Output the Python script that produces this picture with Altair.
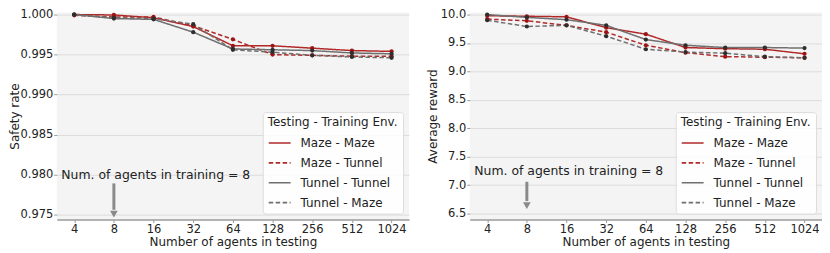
import altair as alt
import pandas as pd

agents = ["4", "8", "16", "32", "64", "128", "256", "512", "1024"]
series = ["Maze - Maze", "Maze - Tunnel", "Tunnel - Tunnel", "Tunnel - Maze"]

safety_maze_maze = [1.0000, 0.99995, 0.9996, 0.9985, 0.9961, 0.9961, 0.9958, 0.9955, 0.9954]
safety_maze_tunnel = [0.9999, 0.9997, 0.9997, 0.9986, 0.9969, 0.9950, 0.9949, 0.9948, 0.9948]
safety_tunnel_tunnel = [1.0000, 0.9995, 0.9994, 0.9978, 0.9957, 0.9956, 0.9955, 0.9952, 0.9951]
safety_tunnel_maze = [1.0000, 0.9996, 0.9995, 0.9988, 0.9956, 0.9953, 0.9949, 0.9947, 0.9946]

reward_maze_maze = [9.98, 9.97, 9.96, 9.77, 9.655, 9.42, 9.40, 9.39, 9.31]
reward_maze_tunnel = [9.92, 9.89, 9.81, 9.69, 9.46, 9.33, 9.26, 9.25, 9.24]
reward_tunnel_tunnel = [10.0, 9.95, 9.91, 9.81, 9.56, 9.46, 9.42, 9.42, 9.41]
reward_tunnel_maze = [9.90, 9.79, 9.81, 9.62, 9.39, 9.34, 9.32, 9.26, 9.24]

safety_ticks = [0.975, 0.980, 0.985, 0.990, 0.995, 1.000]
reward_ticks = [6.5, 7.0, 7.5, 8.0, 8.5, 9.0, 9.5, 10.0]

annotation = "Num. of agents in training = 8"
training_agents = "8"

RED = "#b02a2a"
RED_DOT = "#9e1414"
GRAY = "#6f6f6f"
GRAY_DOT = "#2e2e2e"
FONT = "DejaVu Sans"


def long_df(lists):
    rows = []
    for s, vals in zip(series, lists):
        for a, v in zip(agents, vals):
            rows.append({"agents": a, "series": s, "value": v})
    return pd.DataFrame(rows)


def panel(lists, ytitle, domain, ticks, fmt, text_y, arrow_y1, arrow_y2, head_y, width, ytp):
    df = long_df(lists)
    xenc = alt.X(
        "agents:N",
        sort=agents,
        scale=alt.Scale(type="point", padding=0.44),
        axis=alt.Axis(
            title="Number of agents in testing",
            labelAngle=0,
            labelFontSize=11.5,
            titleFontSize=12,
            titleFontWeight="normal",
            titlePadding=2,
            grid=False,
            domain=True,
            domainColor="#9a9a9a",
            domainWidth=1.5,
            tickColor="#9a9a9a",
            tickSize=3,
            labelPadding=1,
            labelColor="#222222",
            titleColor="#222222",
            labelOverlap=False,
        ),
    )
    yscale = alt.Scale(domain=domain, nice=False, zero=False)
    yenc = alt.Y(
        "value:Q",
        scale=yscale,
        axis=alt.Axis(
            title=ytitle,
            values=ticks,
            tickCount=len(ticks),
            format=fmt,
            labelFontSize=11.5,
            titleFontSize=12,
            titleFontWeight="normal",
            titlePadding=ytp,
            domain=False,
            grid=True,
            gridColor="#dcdcdc",
            tickColor="#9a9a9a",
            tickSize=3,
            labelPadding=1,
            labelColor="#222222",
            titleColor="#222222",
            labelOverlap=False,
        ),
    )
    leg = alt.Legend(
        title="Testing - Training Env.",
        orient="bottom-right",
        offset=6,
        fillColor="rgba(255,255,255,0.85)",
        strokeColor="#dddddd",
        cornerRadius=3,
        padding=5,
        titleFontSize=12,
        titleFontWeight="normal",
        titleColor="#222222",
        titlePadding=2,
        labelFontSize=12,
        labelColor="#222222",
        symbolType="stroke",
        symbolSize=484,
        symbolStrokeWidth=1.6,
        rowPadding=2,
        labelOffset=9,
    )
    base = alt.Chart(df)
    lines = base.mark_line(strokeWidth=1.5).encode(
        x=xenc,
        y=yenc,
        color=alt.Color("series:N", scale=alt.Scale(domain=series, range=[RED, RED, GRAY, GRAY]), legend=leg),
        strokeDash=alt.StrokeDash(
            "series:N",
            scale=alt.Scale(domain=series, range=[[1, 0], [4.5, 2.5], [1, 0], [4.5, 2.5]]),
            legend=leg,
        ),
    )
    points = base.mark_circle(size=18, opacity=1).encode(
        x=alt.X("agents:N", sort=agents),
        y=alt.Y("value:Q"),
        fill=alt.Fill("series:N", scale=alt.Scale(domain=series, range=[RED_DOT, RED_DOT, GRAY_DOT, GRAY_DOT]), legend=None),
    )
    ann_df = pd.DataFrame({"agents": [agents[0]], "value": [text_y], "label": [annotation]})
    text = alt.Chart(ann_df).mark_text(
        align="left", baseline="middle", dx=-13, fontSize=12.5, font=FONT, color="#222222"
    ).encode(x=alt.X("agents:N", sort=agents), y=alt.Y("value:Q"), text="label:N")
    arr_df = pd.DataFrame({"agents": [training_agents], "y1": [arrow_y1], "y2": [arrow_y2], "hy": [head_y]})
    shaft = alt.Chart(arr_df).mark_rule(color="#8a8a8a", strokeWidth=3).encode(
        x=alt.X("agents:N", sort=agents), y=alt.Y("y1:Q"), y2="y2:Q"
    )
    head = alt.Chart(arr_df).mark_point(
        shape="triangle-down", filled=True, color="#8a8a8a", size=60, opacity=1
    ).encode(x=alt.X("agents:N", sort=agents), y=alt.Y("hy:Q"))
    return alt.layer(lines, points, shaft, head, text).properties(width=width, height=208)


left = panel(
    [safety_maze_maze, safety_maze_tunnel, safety_tunnel_tunnel, safety_tunnel_maze],
    "Safety rate", [0.97438, 1.00025], safety_ticks, ".3f",
    0.9799, 0.9789, 0.9756, 0.97505, 354, -1,
)
right = panel(
    [reward_maze_maze, reward_maze_tunnel, reward_tunnel_tunnel, reward_tunnel_maze],
    "Average reward", [6.395, 10.035], reward_ticks, ".1f",
    7.25, 7.06, 6.72, 6.64, 354, 1,
)

chart = (
    alt.hconcat(left, right, spacing=17)
    .resolve_scale(color="independent", strokeDash="independent", fill="independent")
    .resolve_legend(color="independent", strokeDash="independent")
    .properties(padding=0)
    .configure(font=FONT)
    .configure_view(fill="#f4f4f4", stroke=None)
)

chart.save("out.html", embed_options={"renderer": "svg", "actions": False})
